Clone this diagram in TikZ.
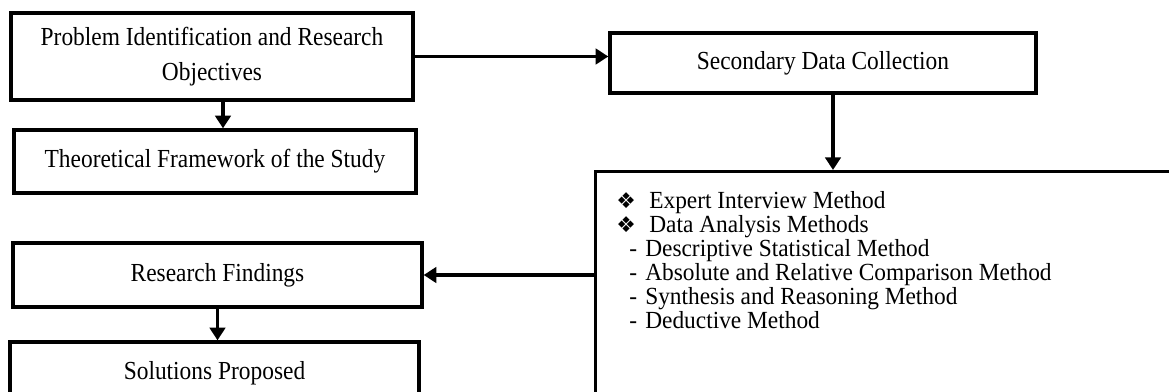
\documentclass[tikz,border=0pt]{standalone}
\usepackage{fontspec}
\setmainfont[FakeStretch=0.9]{Liberation Serif}
\newfontfamily\listfont[FakeStretch=0.95]{Liberation Serif}
\newfontfamily\symfont{DejaVu Sans}
\usepackage{tikz}
\usetikzlibrary{arrows.meta,positioning}
\tikzstyle{arrow} = [line width=2.4pt,-{Triangle[length=9pt,width=11pt]}]

% list entries of the methods box
\newcommand{\mainpoint}[1]{\makebox[0.825cm][l]{\fontsize{15.5}{15.5}\symfont ❖}#1}
\newcommand{\subpoint}[1]{\hspace*{0.325cm}\makebox[0.4cm][l]{-}#1}

\begin{document}
\begin{tikzpicture}[
    box/.style={draw, line width=2.4pt, inner sep=0pt, align=center, font=\fontsize{18.5}{25}\selectfont},
    list/.style={inner sep=0pt, align=left, font={\listfont\fontsize{17.5}{17.1}\selectfont\lineskiplimit=-20pt}}
]
\useasboundingbox (0,0) rectangle (29.225,9.775);
\clip (0,0) rectangle (29.225,9.775);

% left column
\node[box, minimum width=10.05cm, minimum height=2.175cm] (problem) at (5.3,8.3625) {Problem Identification and Research\\Objectives};
\node[box, minimum width=10.05cm, minimum height=1.575cm] (theory) at (5.375,5.7375) {Theoretical Framework of the Study};
\node[box, minimum width=10.225cm, minimum height=1.6cm] (findings) at (5.4375,2.9) {Research Findings};
\node[box, minimum width=10.225cm, minimum height=1.55cm] (solutions) at (5.3625,0.45) {Solutions Proposed};

% right column
\node[box, minimum width=10.65cm, minimum height=1.5cm] (secondary) at (20.575,8.2) {Secondary Data Collection};
\node[box, anchor=north west, minimum width=16cm, minimum height=7cm] (methods) at (14.85,5.525) {};
\node[list, anchor=north west] (items) at (15.4,5.0) {%
    \mainpoint{Expert Interview Method}\\
    \mainpoint{Data Analysis Methods}\\
    \subpoint{Descriptive Statistical Method}\\
    \subpoint{Absolute and Relative Comparison Method}\\
    \subpoint{Synthesis and Reasoning Method}\\
    \subpoint{Deductive Method}};

% connectors
\draw[arrow] (problem.east) -- (problem.east -| secondary.west);
\draw[arrow] ([xshift=0.275cm]problem.south) -- ([xshift=0.275cm]problem.south |- theory.north);
\draw[arrow] ([xshift=0.25cm]secondary.south) -- ([xshift=0.25cm]secondary.south |- methods.north);
\draw[arrow] (methods.west |- findings.east) -- (findings.east);
\draw[arrow] (findings.south) -- (findings.south |- solutions.north);
\end{tikzpicture}
\end{document}
